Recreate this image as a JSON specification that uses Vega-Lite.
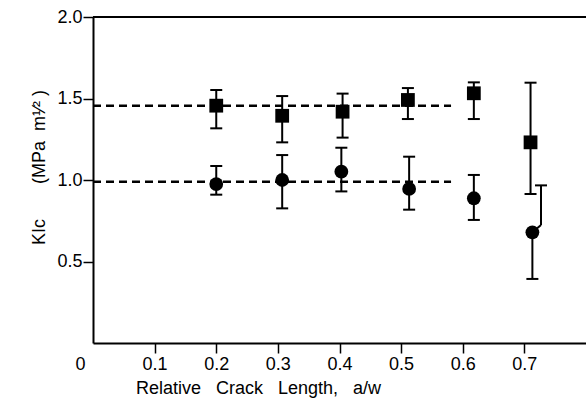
{
  "$schema": "https://vega.github.io/schema/vega-lite/v6.json",
  "width": 493,
  "height": 326,
  "autosize": {"type": "none"},
  "padding": {"left": 93, "top": 17, "right": 0, "bottom": 68},
  "background": "white",
  "config": {
    "view": {"stroke": null},
    "axis": {
      "labelFont": "Liberation Sans",
      "titleFont": "Liberation Sans",
      "labelFontSize": 18,
      "titleFontSize": 18,
      "titleFontWeight": "normal",
      "labelColor": "black",
      "titleColor": "black",
      "domainColor": "black",
      "tickColor": "black",
      "domainWidth": 2,
      "tickWidth": 1.5,
      "grid": false
    }
  },
  "datasets": {
    "pts": [
      {"series": "square", "x": 0.2, "y": 1.456},
      {"series": "square", "x": 0.307, "y": 1.394},
      {"series": "square", "x": 0.405, "y": 1.419},
      {"series": "square", "x": 0.511, "y": 1.491},
      {"series": "square", "x": 0.618, "y": 1.532},
      {"series": "square", "x": 0.71, "y": 1.231},
      {"series": "circle", "x": 0.2, "y": 0.975},
      {"series": "circle", "x": 0.307, "y": 1.0},
      {"series": "circle", "x": 0.403, "y": 1.051},
      {"series": "circle", "x": 0.513, "y": 0.945},
      {"series": "circle", "x": 0.618, "y": 0.888},
      {"series": "circle", "x": 0.713, "y": 0.679}
    ],
    "bars": [
      {"x": 0.2, "y": 1.317, "x2": 0.2, "y2": 1.552},
      {"x": 0.307, "y": 1.231, "x2": 0.307, "y2": 1.515},
      {"x": 0.405, "y": 1.26, "x2": 0.405, "y2": 1.53},
      {"x": 0.511, "y": 1.374, "x2": 0.511, "y2": 1.564},
      {"x": 0.618, "y": 1.374, "x2": 0.618, "y2": 1.599},
      {"x": 0.71, "y": 0.914, "x2": 0.71, "y2": 1.597},
      {"x": 0.2, "y": 0.91, "x2": 0.2, "y2": 1.086},
      {"x": 0.307, "y": 0.826, "x2": 0.307, "y2": 1.153},
      {"x": 0.403, "y": 0.93, "x2": 0.403, "y2": 1.198},
      {"x": 0.513, "y": 0.818, "x2": 0.513, "y2": 1.143},
      {"x": 0.618, "y": 0.755, "x2": 0.618, "y2": 1.031},
      {"x": 0.713, "y": 0.393, "x2": 0.713, "y2": 0.679},
      {"x": 0.713, "y": 0.679, "x2": 0.727, "y2": 0.724},
      {"x": 0.727, "y": 0.724, "x2": 0.727, "y2": 0.967}
    ],
    "caps": [
      {"x": 0.2, "y": 1.317}, {"x": 0.2, "y": 1.552},
      {"x": 0.307, "y": 1.231}, {"x": 0.307, "y": 1.515},
      {"x": 0.405, "y": 1.26}, {"x": 0.405, "y": 1.53},
      {"x": 0.511, "y": 1.374}, {"x": 0.511, "y": 1.564},
      {"x": 0.618, "y": 1.374}, {"x": 0.618, "y": 1.599},
      {"x": 0.71, "y": 0.914}, {"x": 0.71, "y": 1.597},
      {"x": 0.2, "y": 0.91}, {"x": 0.2, "y": 1.086},
      {"x": 0.307, "y": 0.826}, {"x": 0.307, "y": 1.153},
      {"x": 0.403, "y": 0.93}, {"x": 0.403, "y": 1.198},
      {"x": 0.513, "y": 0.818}, {"x": 0.513, "y": 1.143},
      {"x": 0.618, "y": 0.755}, {"x": 0.618, "y": 1.031},
      {"x": 0.713, "y": 0.393}, {"x": 0.727, "y": 0.967}
    ],
    "dashes": [
      {"x": 0, "x2": 0.581, "y": 1.455},
      {"x": 0, "x2": 0.581, "y": 0.99}
    ],
    "frame": [
      {"x": 0, "x2": 0.8, "y": 2.0}
    ]
  },
  "encoding": {
    "x": {
      "field": "x", "type": "quantitative",
      "scale": {"domain": [0, 0.8], "nice": false},
      "axis": {
        "values": [0, 0.1, 0.2, 0.3, 0.4, 0.5, 0.6, 0.7],
        "format": ".1~f",
        "tickSize": 10,
        "labelPadding": 2,
        "labelFlush": false,
        "labelOverlap": false,
        "labelOffset": {"condition": {"test": "datum.value === 0", "value": -13}, "value": 0},
        "tickOpacity": {"condition": {"test": "datum.value === 0", "value": 0}, "value": 1},
        "title": "Relative\u00a0\u00a0\u00a0Crack\u00a0\u00a0\u00a0Length,\u00a0\u00a0\u00a0a/w",
        "titleX": 165,
        "titlePadding": 6
      }
    },
    "y": {
      "field": "y", "type": "quantitative",
      "scale": {"domain": [0, 2], "nice": false},
      "axis": {
        "values": [0.5, 1, 1.5, 2],
        "format": ".1f",
        "tickSize": 10,
        "labelPadding": 1,
        "title": "KIc\u00a0\u00a0\u00a0\u00a0\u00a0\u00a0\u00a0(MPa\u00a0\u00a0m\u00b9\u2044\u00b2\u00a0)",
        "titleY": 150,
        "titlePadding": 8
      }
    }
  },
  "layer": [
    {
      "data": {"name": "frame"},
      "mark": {"type": "rule", "color": "black", "strokeWidth": 2},
      "encoding": {"x2": {"field": "x2"}}
    },
    {
      "data": {"name": "dashes"},
      "mark": {"type": "rule", "color": "black", "strokeWidth": 2.5, "strokeDash": [8, 5]},
      "encoding": {"x2": {"field": "x2"}}
    },
    {
      "data": {"name": "bars"},
      "mark": {"type": "rule", "color": "black", "strokeWidth": 2},
      "encoding": {"x2": {"field": "x2"}, "y2": {"field": "y2"}}
    },
    {
      "data": {"name": "caps"},
      "mark": {"type": "tick", "orient": "horizontal", "color": "black", "size": 12, "thickness": 2, "opacity": 1},
      "encoding": {}
    },
    {
      "data": {"name": "pts"},
      "mark": {"type": "point", "filled": true, "color": "black", "opacity": 1, "size": 190},
      "encoding": {
        "shape": {
          "field": "series", "type": "nominal",
          "scale": {"domain": ["square", "circle"], "range": ["square", "circle"]},
          "legend": null
        }
      }
    }
  ]
}
